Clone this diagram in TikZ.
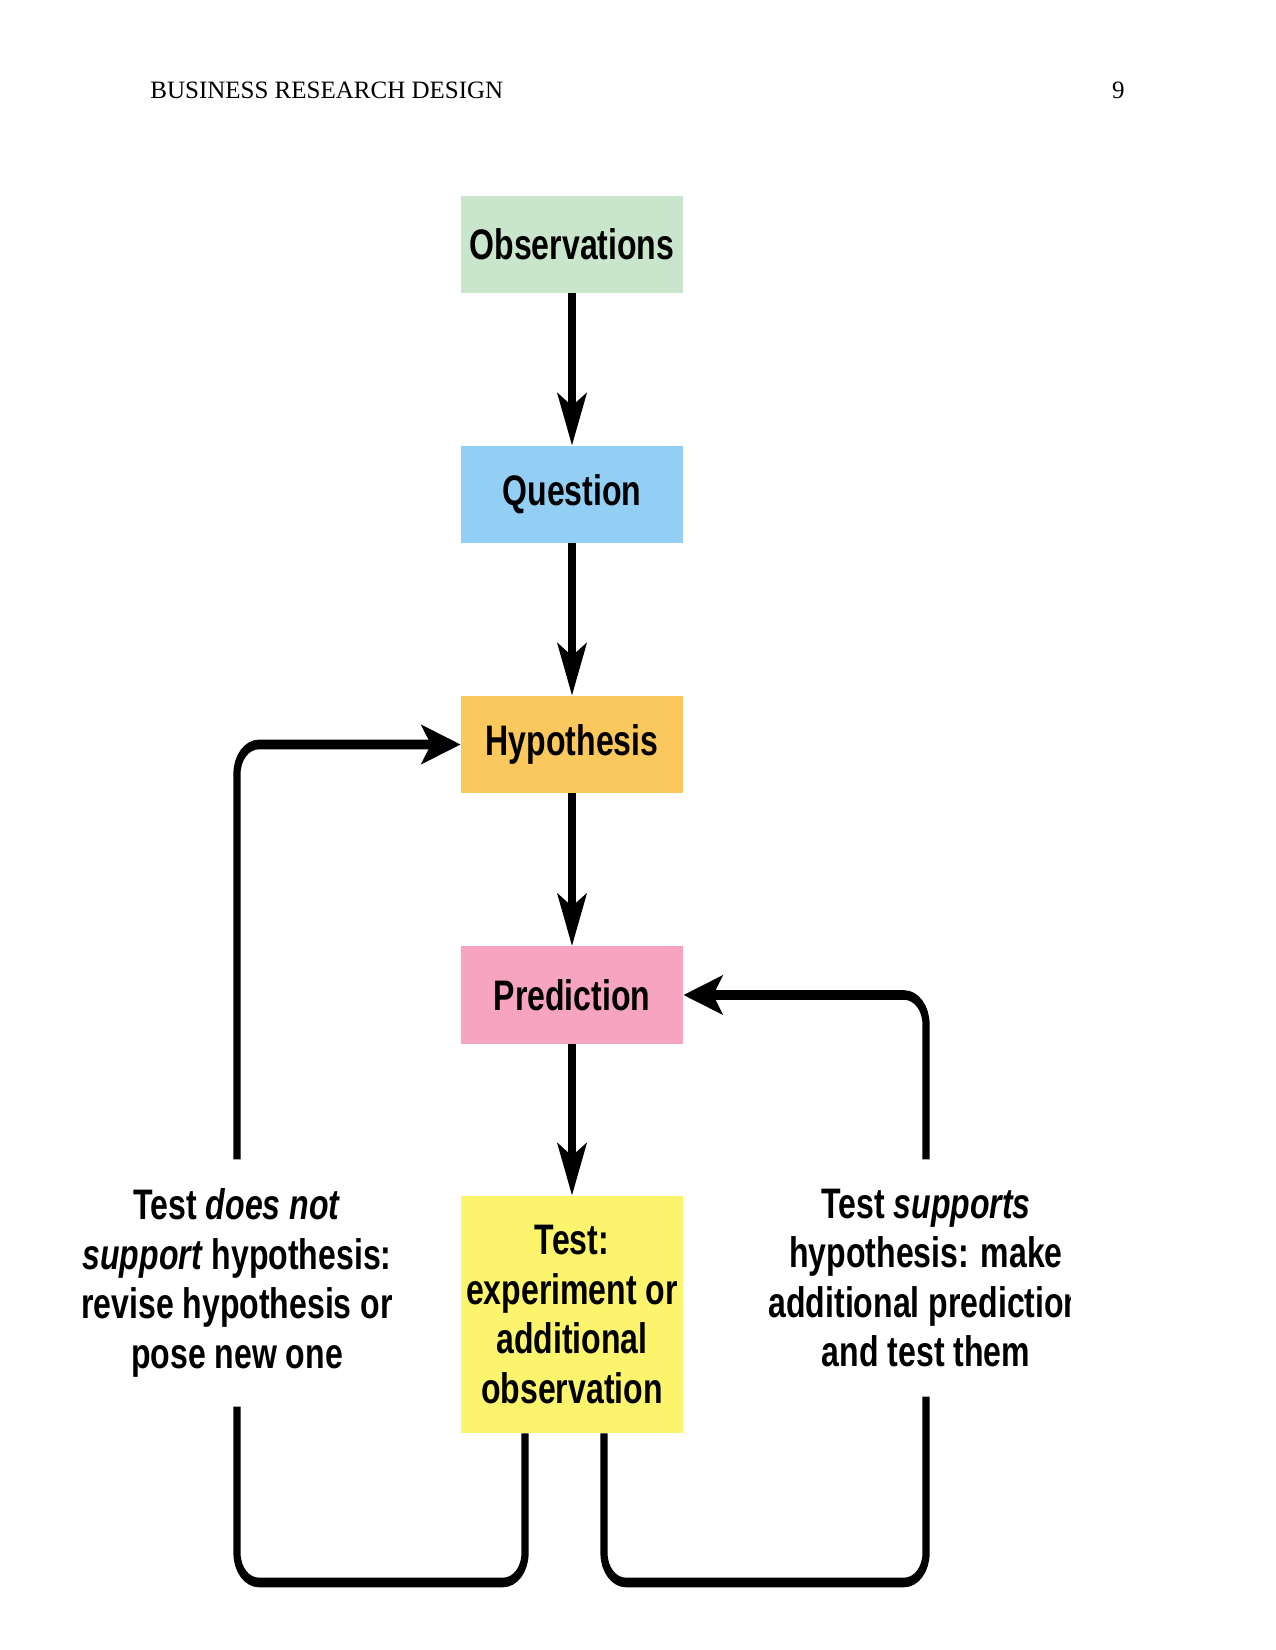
\documentclass[tikz,border=0pt]{standalone}
\usepackage{fontspec}
\setmainfont{Liberation Serif}
\newfontfamily\diagfont{Liberation Sans}
\usetikzlibrary{arrows.meta,calc}

\definecolor{obsgreen}{HTML}{C9E5CB}
\definecolor{qblue}{HTML}{93CFF5}
\definecolor{hyporange}{HTML}{FAC85C}
\definecolor{predpink}{HTML}{F6A4BF}
\definecolor{testyellow}{HTML}{FBF46C}

\begin{document}
\begin{tikzpicture}[x=0.48pt,y=-0.48pt,
  header/.style={inner sep=0pt,font=\fontsize{12}{14}\selectfont},
  stage/.style={fill=#1,minimum width=142.1pt,minimum height=46.6pt,inner sep=0pt,
    align=center,font=\diagfont\bfseries\fontsize{20.5}{23.7}\selectfont},
  outcome/.style={inner xsep=0pt,inner ysep=14pt,align=center,
    font=\diagfont\bfseries\fontsize{20.5}{23.7}\selectfont},
  link/.style={line width=4.6pt,rounded corners=14pt},
  flow/.style={link,-{Stealth[length=25pt,width=18.5pt,inset=6pt]}}]
  \useasboundingbox (0,0) rectangle (1275,1650);
  \node[header,anchor=base west] (title) at (150,99) {BUSINESS RESEARCH DESIGN};
  \node[header,anchor=base east] (page) at (1125,99) {9};

  \begin{scope}[transform canvas={xscale=0.75},x=0.64pt]
    \node[stage=obsgreen] (obs) at (572,244.5) {Observations};
    \node[stage=qblue] (que) at (572,494.5) {Question};
    \node[stage=hyporange] (hyp) at (572,744.5) {Hypothesis};
    \node[stage=predpink] (pred) at (572,995) {Prediction};
    \node[stage=testyellow,minimum height=113.8pt] (test) at (572,1314.5)
      {Test:\\experiment or\\additional\\observation};

    \node[outcome] (fail) at (237,1283)
      {Test \textit{does not}\\\textit{support} hypothesis:\\revise hypothesis or\\pose new one};
    \begin{scope}
      \clip (0,0) rectangle (1070,1650);
      \node[outcome] (pass) at (926,1278)
        {Test \textit{supports}\\hypothesis: make\\additional prediction\\and test them};
    \end{scope}

    \draw[flow] (obs) -- (que);
    \draw[flow] (que) -- (hyp);
    \draw[flow] (hyp) -- (pred);
    \draw[flow] (pred) -- (test);
    \draw[flow] (fail) |- (hyp);
    \draw[link] ($(test.south)+(-47,0)$) -- ++(0,149) -| (fail.south);
    \draw[flow] (pass) |- (pred);
    \draw[link] ($(test.south)+(32,0)$) -- ++(0,149) -| (pass.south);
  \end{scope}
\end{tikzpicture}
\end{document}
